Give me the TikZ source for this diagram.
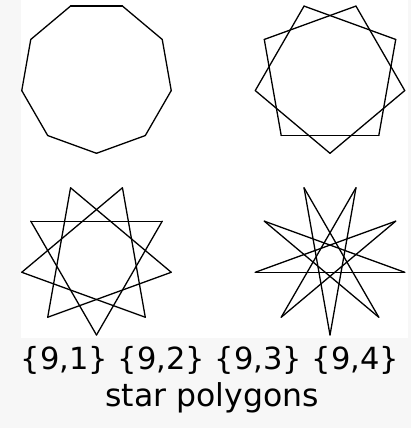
\documentclass[tikz,border=0pt]{standalone}
\usepackage{fontspec}
\newfontfamily\labelfont{DejaVu Sans}
\usetikzlibrary{calc}

\begin{document}
\begin{tikzpicture}[x=1pt,y=-1pt,line width=1.3pt,line cap=round,line join=round]
        \useasboundingbox (0,0) rectangle (411,428);
        \fill[gray!6] (0,0) rectangle (411,428);
        \fill[white] (21,0) rectangle (408,338);
        % centres of the four polygons
        \coordinate (c1) at (96.5,77.4);
        \coordinate (c2) at (330,77.4);
        \coordinate (c3) at (96.5,259.1);
        \coordinate (c4) at (330,259.1);
        \foreach \q in {1,2,3,4}
            \foreach \i in {0,...,8}
                \draw ($(c\q)+(90+40*\i:75.9)$) -- ($(c\q)+(90+40*\i+40*\q:75.9)$);
        \node[anchor=base,inner sep=0pt,font=\labelfont\fontsize{30.5}{36}\selectfont] (names) at (210,369) {\{9,1\} \{9,2\} \{9,3\} \{9,4\}};
        \node[anchor=base,inner sep=0pt,font=\labelfont\fontsize{31.5}{36}\selectfont] (caption) at (212,406) {star polygons};
    \end{tikzpicture}
\end{document}
